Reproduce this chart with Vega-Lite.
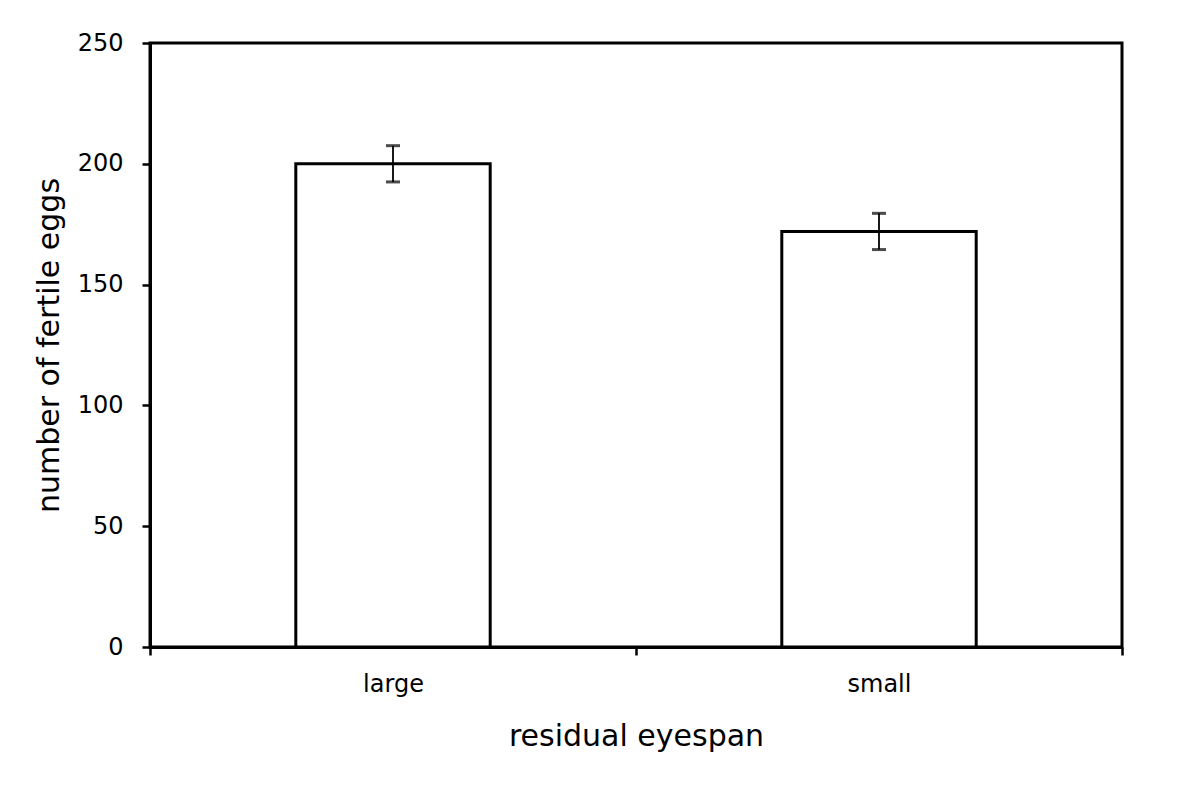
{
  "$schema": "https://vega.github.io/schema/vega-lite/v6.json",
  "autosize": "none",
  "width": 972,
  "height": 604,
  "padding": {"left": 150, "top": 43, "right": 78, "bottom": 141},
  "background": "white",
  "config": {
    "view": {"stroke": "black", "strokeWidth": 3},
    "font": "DejaVu Sans",
    "axis": {"grid": false, "domainColor": "black", "domainWidth": 3, "tickColor": "black", "tickWidth": 2.5, "tickSize": 8, "labelColor": "black", "titleColor": "black", "labelFontSize": 24, "titleFontSize": 30, "labelFont": "DejaVu Sans", "titleFont": "DejaVu Sans", "titleFontWeight": "normal"}
  },
  "data": {"values": [
    {"eyespan": "large", "eggs": 200, "lo": 192.5, "hi": 207.5},
    {"eyespan": "small", "eggs": 172, "lo": 164.5, "hi": 179.5}
  ]},
  "layer": [
    {
      "mark": {"type": "bar", "fill": "white", "stroke": "black", "strokeWidth": 3, "width": {"band": 0.4}},
      "encoding": {
        "x": {"field": "eyespan", "type": "nominal", "scale": {"paddingInner": 0, "paddingOuter": 0}, "axis": {"title": "residual eyespan", "labelAngle": 0, "tickBand": "extent", "labelPadding": 17, "titlePadding": 25}},
        "y": {"field": "eggs", "type": "quantitative", "scale": {"domain": [0, 250], "nice": false}, "axis": {"title": "number of fertile eggs", "values": [0, 50, 100, 150, 200, 250], "labelPadding": 19, "titlePadding": 13}}
      }
    },
    {
      "mark": {"type": "errorbar", "ticks": {"stroke": "black", "strokeWidth": 2, "size": 12}, "rule": {"stroke": "black", "strokeWidth": 1.8}},
      "encoding": {
        "x": {"field": "eyespan", "type": "nominal"},
        "y": {"field": "lo", "type": "quantitative", "title": "number of fertile eggs"},
        "y2": {"field": "hi"}
      }
    }
  ]
}
